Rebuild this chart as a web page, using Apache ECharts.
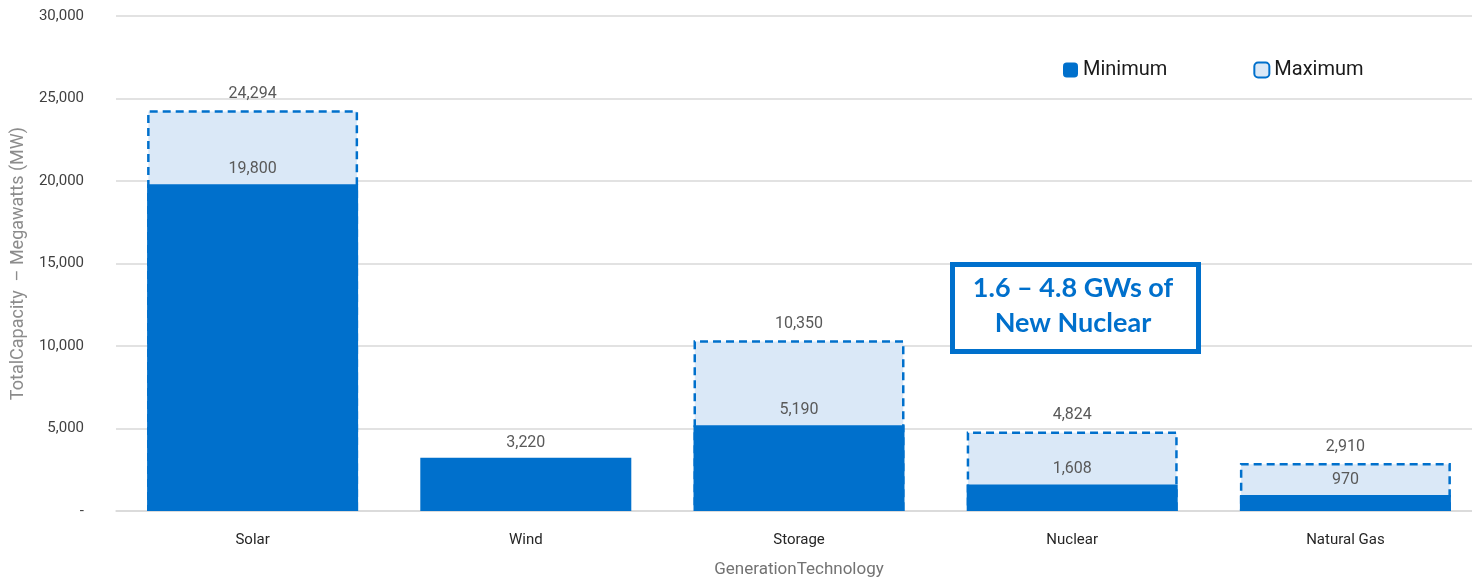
<!DOCTYPE html>
<html>
<head>
<meta charset="utf-8">
<script src="https://cdn.jsdelivr.net/npm/echarts@6/dist/echarts.min.js"></script>
<style>
  html, body { margin: 0; padding: 0; background: #fff; }
  #chart { width: 1472px; height: 582px; }
</style>
</head>
<body>
<div id="chart"></div>
<script>
const categories = ['Solar', 'Wind', 'Storage', 'Nuclear', 'Natural Gas']
const minimumValues = [19800, 3220, 5190, 1608, 970]
const maximumValues = [24294, null, 10350, 4824, 2910]
const yTicks = [0, 5000, 10000, 15000, 20000, 25000, 30000]

const FONT = '"Liberation Sans Narrow", "Roboto", sans-serif'
const BLUE = '#0070CC'
const LIGHT = '#DAE8F7'

const fmt = v => v === 0 ? '-' : v.toLocaleString('en-US')

const chart = echarts.init(document.getElementById('chart'))

const option = {
  animation: false,
  textStyle: { fontFamily: FONT },
  grid: { left: 116, width: 1366, top: 16, bottom: 71, containLabel: false, outerBoundsMode: 'none' },
  legend: {
    data: ['Minimum', 'Maximum'],
    left: 1058,
    top: 55,
    itemWidth: 15,
    itemHeight: 15,
    itemGap: 86,
    textStyle: { fontFamily: FONT, fontSize: 20, color: '#1a1a1a' }
  },
  xAxis: {
    type: 'category',
    data: categories,
    name: 'GenerationTechnology',
    nameLocation: 'middle',
    nameGap: 50,
    nameTextStyle: { fontFamily: FONT, fontSize: 17, color: '#737373' },
    axisLine: { lineStyle: { color: '#D9D9D9', width: 1.5 } },
    axisTick: { show: false },
    axisLabel: { fontFamily: FONT, fontSize: 15, color: '#262626', margin: 22 }
  },
  yAxis: {
    type: 'value',
    min: yTicks[0],
    max: yTicks[yTicks.length - 1],
    interval: yTicks[1] - yTicks[0],
    name: 'TotalCapacity  – Megawatts (MW)',
    nameLocation: 'middle',
    nameGap: 86,
    nameTextStyle: { fontFamily: FONT, fontSize: 18, color: '#8c8c8c' },
    axisLine: { show: false },
    axisTick: { show: false },
    axisLabel: { fontFamily: FONT, fontSize: 15, color: '#404040', margin: 32, formatter: fmt },
    splitLine: { lineStyle: { color: '#D9D9D9', width: 1.5 } }
  },
  series: [
    {
      name: 'Maximum',
      type: 'bar',
      data: maximumValues,
      barWidth: 211,
      z: 2,
      itemStyle: {
        color: LIGHT,
        borderColor: BLUE,
        borderWidth: 2.5,
        borderType: [8, 5]
      },
      label: {
        show: true,
        position: 'top',
        distance: 8,
        fontFamily: FONT,
        fontSize: 16,
        color: '#595959',
        formatter: p => fmt(p.value)
      }
    },
    {
      name: 'Minimum',
      type: 'bar',
      data: minimumValues,
      barWidth: 211,
      barGap: '-100%',
      z: 3,
      itemStyle: { color: BLUE },
      label: {
        show: true,
        position: 'top',
        distance: 7,
        fontFamily: FONT,
        fontSize: 16,
        color: '#595959',
        formatter: p => fmt(p.value)
      }
    }
  ],
  graphic: [
    {
      type: 'rect',
      left: 950,
      top: 262,
      z: 10,
      shape: { width: 246, height: 87 },
      style: { fill: '#fff', stroke: BLUE, lineWidth: 5 }
    },
    {
      type: 'text',
      x: 1073,
      y: 271,
      z: 11,
      style: {
        text: '1.6 – 4.8 GWs of\nNew Nuclear',
        fontFamily: 'Lato, "Open Sans", sans-serif',
        fontWeight: 'bold',
        fontSize: 27,
        lineHeight: 35,
        fill: BLUE,
        align: 'center',
        verticalAlign: 'top'
      }
    }
  ]
}

chart.setOption(option)
</script>
</body>
</html>
